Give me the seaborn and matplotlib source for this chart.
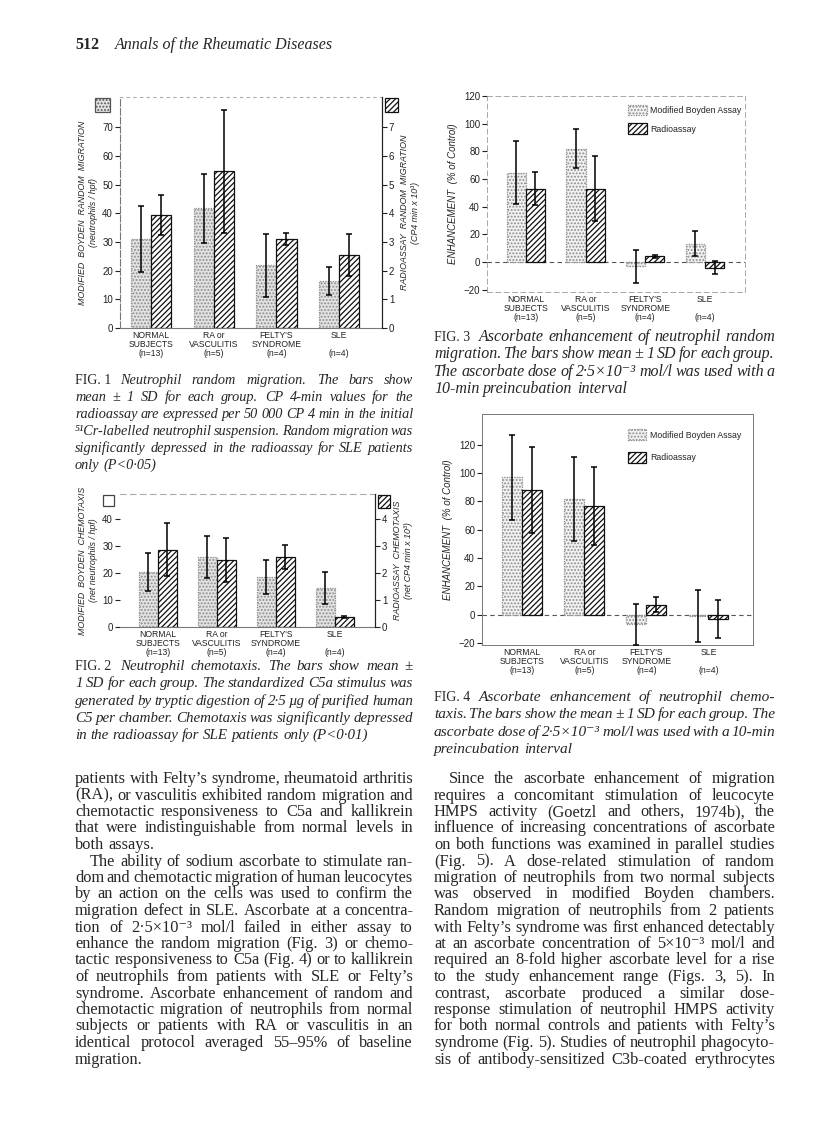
import matplotlib
matplotlib.use("Agg")
import matplotlib.pyplot as plt
from matplotlib.patches import Rectangle
import pandas as pd
import seaborn as sns

W, H = 816, 1138

# ---- values ----
groups = ["NORMAL\nSUBJECTS\n(n=13)", "RA or\nVASCULITIS\n(n=5)",
          "FELTY'S\nSYNDROME\n(n=4)", "SLE\n\n(n=4)"]
assays = ["Modified Boyden Assay", "Radioassay"]

# Fig 1: random migration (Boyden: neutrophils/hpf, radio: CP4 min x 10^3)
fig1_boyden = [30.9, 41.7, 21.8, 16.4]
fig1_boyden_sd = [11.5, 12.0, 11.1, 5.0]
fig1_radio = [3.94, 5.46, 3.10, 2.55]
fig1_radio_sd = [0.70, 2.15, 0.22, 0.74]

# Fig 2: chemotaxis
fig2_boyden = [20.4, 25.9, 18.5, 14.4]
fig2_boyden_sd = [7.2, 7.9, 6.4, 5.9]
fig2_radio = [2.86, 2.49, 2.59, 0.37]
fig2_radio_sd = [0.98, 0.82, 0.45, 0.03]

# Fig 3: ascorbate enhancement of random migration (% of control)
fig3_boyden = [64.6, 81.9, -3.0, 13.3]
fig3_boyden_sd = [23.0, 13.9, 12.0, 9.0]
fig3_radio = [53.0, 53.0, 4.1, -4.1]
fig3_radio_sd = [12.0, 23.4, 0.9, 4.6]

# Fig 4: ascorbate enhancement of chemotaxis (% of control)
fig4_boyden = [97.2, 81.9, -7.0, -1.0]
fig4_boyden_sd = [30.0, 29.6, 14.4, 18.5]
fig4_radio = [88.2, 76.9, 7.1, -3.0]
fig4_radio_sd = [30.6, 27.6, 5.6, 13.5]

header_num = "512"
header_title = "Annals of the Rheumatic Diseases"

cap1 = ["Neutrophil random migration. The bars show",
        "mean ± 1 SD for each group. CP 4-min values for the",
        "radioassay are expressed per 50 000 CP 4 min in the initial",
        "⁵¹Cr-labelled neutrophil suspension. Random migration was",
        "significantly depressed in the radioassay for SLE patients",
        "only (P<0·05)"]
cap2 = ["Neutrophil chemotaxis. The bars show mean ±",
        "1 SD for each group. The standardized C5a stimulus was",
        "generated by tryptic digestion of 2·5 µg of purified human",
        "C5 per chamber. Chemotaxis was significantly depressed",
        "in the radioassay for SLE patients only (P<0·01)"]
cap3 = ["Ascorbate enhancement of neutrophil random",
        "migration. The bars show mean ± 1 SD for each group.",
        "The ascorbate dose of 2·5×10⁻³ mol/l was used with a",
        "10-min preincubation interval"]
cap4 = ["Ascorbate enhancement of neutrophil chemo-",
        "taxis. The bars show the mean ± 1 SD for each group. The",
        "ascorbate dose of 2·5×10⁻³ mol/l was used with a 10-min",
        "preincubation interval"]

body_left = ["patients with Felty’s syndrome, rheumatoid arthritis",
             "(RA), or vasculitis exhibited random migration and",
             "chemotactic responsiveness to C5a and kallikrein",
             "that were indistinguishable from normal levels in",
             "both assays.",
             "The ability of sodium ascorbate to stimulate ran-",
             "dom and chemotactic migration of human leucocytes",
             "by an action on the cells was used to confirm the",
             "migration defect in SLE. Ascorbate at a concentra-",
             "tion of 2·5×10⁻³ mol/l failed in either assay to",
             "enhance the random migration (Fig. 3) or chemo-",
             "tactic responsiveness to C5a (Fig. 4) or to kallikrein",
             "of neutrophils from patients with SLE or Felty’s",
             "syndrome. Ascorbate enhancement of random and",
             "chemotactic migration of neutrophils from normal",
             "subjects or patients with RA or vasculitis in an",
             "identical protocol averaged 55–95% of baseline",
             "migration."]
body_right = ["Since the ascorbate enhancement of migration",
              "requires a concomitant stimulation of leucocyte",
              "HMPS activity (Goetzl and others, 1974b), the",
              "influence of increasing concentrations of ascorbate",
              "on both functions was examined in parallel studies",
              "(Fig. 5). A dose-related stimulation of random",
              "migration of neutrophils from two normal subjects",
              "was observed in modified Boyden chambers.",
              "Random migration of neutrophils from 2 patients",
              "with Felty’s syndrome was first enhanced detectably",
              "at an ascorbate concentration of 5×10⁻³ mol/l and",
              "required an 8-fold higher ascorbate level for a rise",
              "to the study enhancement range (Figs. 3, 5). In",
              "contrast, ascorbate produced a similar dose-",
              "response stimulation of neutrophil HMPS activity",
              "for both normal controls and patients with Felty’s",
              "syndrome (Fig. 5). Studies of neutrophil phagocyto-",
              "sis of antibody-sensitized C3b-coated erythrocytes"]

sns.set_theme(style="ticks")
SANS = ["Liberation Sans", "DejaVu Sans"]
SERIF = ["Liberation Serif", "DejaVu Serif"]
plt.rcParams["font.family"] = SANS
plt.rcParams["hatch.linewidth"] = 0.9
plt.rcParams["axes.linewidth"] = 0.8
plt.rcParams["xtick.major.width"] = 0.8
plt.rcParams["ytick.major.width"] = 0.8
plt.rcParams["xtick.color"] = "#222222"
plt.rcParams["ytick.color"] = "#222222"

STIPPLE_EDGE = "#8c8c8c"


def px_axes(fig, x0, y0, x1, y1):
    return fig.add_axes([x0 / W, 1 - y1 / H, (x1 - x0) / W, (y1 - y0) / H])


def draw_bars(ax, boyden, boyden_sd, radio, radio_sd, scale=1.0, fill="#e2e2e2"):
    df = pd.DataFrame({
        "group": groups * 2,
        "assay": [assays[0]] * len(groups) + [assays[1]] * len(groups),
        "value": list(boyden) + [v * scale for v in radio],
    })
    sns.barplot(data=df, x="group", y="value", hue="assay", order=groups,
                hue_order=assays, width=0.64, gap=0, errorbar=None,
                legend=False, ax=ax)
    for b in ax.containers[0]:
        b.set_facecolor(fill)
        b.set_edgecolor(STIPPLE_EDGE)
        b.set_hatch(".....")
        b.set_linewidth(0.9)
        b.set_linestyle((0, (1, 1)))
    for b in ax.containers[1]:
        b.set_facecolor("white")
        b.set_edgecolor("#111111")
        b.set_hatch("//////")
        b.set_linewidth(0.9)
    for cont, mean, sd, k in [(ax.containers[0], boyden, boyden_sd, 1.0),
                              (ax.containers[1], radio, radio_sd, scale)]:
        xs = [b.get_x() + b.get_width() / 2 for b in cont]
        ax.errorbar(xs, [m * k for m in mean], yerr=[s * k for s in sd],
                    fmt="none", ecolor="black", elinewidth=1.1, capsize=2.5,
                    capthick=1.1, zorder=5)
    ax.set_xlabel("")
    ax.set_ylabel("")
    ax.tick_params(axis="x", length=0, pad=2.5, labelsize=6.2)
    ax.tick_params(axis="y", length=3.5, pad=1.5, labelsize=7)
    for lab in ax.get_xticklabels():
        lab.set_linespacing(1.0)


fig = plt.figure(figsize=(W / 100, H / 100), dpi=100)
fig.patch.set_facecolor("white")

# ---------- Fig 1 ----------
ax1 = px_axes(fig, 120, 97, 382, 328)
draw_bars(ax1, fig1_boyden, fig1_boyden_sd, fig1_radio, fig1_radio_sd, scale=10)
ax1.set_xlim(-0.49, 3.68)
ax1.set_ylim(0, 80.5)
ax1.set_yticks(range(0, 80, 10))
ax1r = ax1.twinx()
ax1r.set_ylim(0, 8.05)
ax1r.set_yticks(range(0, 8))
ax1r.tick_params(axis="y", length=3.5, pad=1.5, labelsize=7)
ax1.spines["left"].set_color("#777777")
ax1.spines["left"].set_linestyle((0, (6, 2)))
ax1.spines["top"].set_color("#aaaaaa")
ax1.spines["top"].set_linestyle((0, (2, 4)))
ax1.spines["bottom"].set_color("#777777")
for s in ["left", "top", "bottom"]:
    ax1r.spines[s].set_visible(False)
ax1r.spines["right"].set_color("#222222")
ax1.set_ylabel("MODIFIED  BOYDEN  RANDOM  MIGRATION\n(neutrophils / hpf)",
               fontsize=6.4, style="italic", labelpad=3, linespacing=1.25)
ax1r.set_ylabel("RADIOASSAY  RANDOM  MIGRATION\n(CP4 min x 10³)",
                fontsize=6.4, style="italic", labelpad=4, linespacing=1.25)

# ---------- Fig 2 ----------
ax2 = px_axes(fig, 120, 494, 375, 627)
draw_bars(ax2, fig2_boyden, fig2_boyden_sd, fig2_radio, fig2_radio_sd, scale=10)
ax2.set_xlim(-0.64, 3.68)
ax2.set_ylim(0, 49.3)
ax2.set_yticks(range(0, 50, 10))
ax2r = ax2.twinx()
ax2r.set_ylim(0, 4.93)
ax2r.set_yticks(range(0, 5))
ax2r.tick_params(axis="y", length=3.5, pad=1.5, labelsize=7)
ax2.spines["left"].set_visible(False)
ax2.spines["top"].set_color("#aaaaaa")
ax2.spines["top"].set_linestyle((0, (5, 4)))
ax2.spines["bottom"].set_color("#777777")
for s in ["left", "top", "bottom"]:
    ax2r.spines[s].set_visible(False)
ax2r.spines["right"].set_color("#222222")
ax2.set_ylabel("MODIFIED  BOYDEN  CHEMOTAXIS\n(net neutrophils / hpf)",
               fontsize=6.4, style="italic", labelpad=3, linespacing=1.25)
ax2r.set_ylabel("RADIOASSAY  CHEMOTAXIS\n(net CP4 min x 10³)",
                fontsize=6.4, style="italic", labelpad=4, linespacing=1.25)

# key squares beside the Fig 1 / Fig 2 axes
for (x0, y0, x1, y1, kind) in [(95, 98, 110, 112, "b"), (385, 98, 398, 112, "r"),
                               (103, 495, 114, 506, "o"), (378, 495, 390, 508, "r")]:
    if kind == "r":
        sty = dict(facecolor="white", edgecolor="#111111", hatch="//////", lw=0.9)
    elif kind == "b":
        sty = dict(facecolor="#e2e2e2", edgecolor="#555555", hatch=".....", lw=0.9)
    else:
        sty = dict(facecolor="white", edgecolor="#444444", lw=0.9)
    fig.add_artist(Rectangle((x0 / W, 1 - y1 / H), (x1 - x0) / W, (y1 - y0) / H,
                             transform=fig.transFigure, **sty))

# ---------- Fig 3 ----------
ax3 = px_axes(fig, 487, 96, 745, 292)
draw_bars(ax3, fig3_boyden, fig3_boyden_sd, fig3_radio, fig3_radio_sd, fill="#f1f1f1")
ax3.set_xlim(-0.65, 3.67)
ax3.set_ylim(-21.7, 120)
ax3.set_yticks(range(-20, 121, 20))
for s in ax3.spines.values():
    s.set_color("#9a9a9a")
    s.set_linewidth(0.6)
    s.set_linestyle((0, (6, 4)))
ax3.axhline(0, color="#555555", lw=0.8, ls=(0, (4, 3)), zorder=0)
ax3.set_ylabel("ENHANCEMENT  (% of Control)", fontsize=7, style="italic", labelpad=4)
ax3.legend([ax3.containers[0][0], ax3.containers[1][0]], assays,
           loc="upper left", bbox_to_anchor=(0.547, 0.955), frameon=False,
           fontsize=6.3, handlelength=2.1, handleheight=1.5, borderpad=0,
           borderaxespad=0, labelspacing=0.9, handletextpad=0.4)

# ---------- Fig 4 ----------
ax4 = px_axes(fig, 482, 414, 753, 645)
draw_bars(ax4, fig4_boyden, fig4_boyden_sd, fig4_radio, fig4_radio_sd, fill="#f1f1f1")
ax4.set_xlim(-0.65, 3.72)
ax4.set_ylim(-21.5, 141.8)
ax4.set_yticks(range(-20, 121, 20))
for s in ax4.spines.values():
    s.set_color("#777777")
    s.set_linewidth(0.7)
ax4.axhline(0, color="#555555", lw=0.8, ls=(0, (4, 3)), zorder=0)
ax4.set_ylabel("ENHANCEMENT  (% of Control)", fontsize=7, style="italic", labelpad=4)
ax4.legend([ax4.containers[0][0], ax4.containers[1][0]], assays,
           loc="upper left", bbox_to_anchor=(0.539, 0.935), frameon=False,
           fontsize=6.3, handlelength=2.1, handleheight=1.6, borderpad=0,
           borderaxespad=0, labelspacing=1.3, handletextpad=0.4)

# ---------- page text ----------
renderer = fig.canvas.get_renderer()


def text_width(s, size, **kw):
    t = fig.text(0, 0, s, fontsize=size, **kw)
    w = t.get_window_extent(renderer).width
    t.remove()
    return w


def fits(lines, starts, x1, size, **kw):
    space = text_width("x x", size, **kw) - text_width("xx", size, **kw)
    for line, x0 in zip(lines, starts):
        words = line.split()
        need = sum(text_width(w, size, **kw) for w in words) + 0.55 * space * (len(words) - 1)
        if need > x1 - x0:
            return False
    return True


def put_block(lines, x0, x1, y0, step, size, free=(), indent=(), prefix=None, **kw):
    starts = [x0 + (15 if i in indent else 0) for i in range(len(lines))]
    if prefix:
        t = fig.text(x0 / W, 1 - y0 / H, prefix, va="baseline", ha="left",
                     family=SERIF, fontsize=10)
        starts[0] = x0 + t.get_window_extent(renderer).width + 9
    # one size for the whole block: the largest that lets every line fit
    while size > 7 and not fits(lines, starts, x1, size, **kw):
        size -= 0.1
    space = text_width("x x", size, **kw) - text_width("xx", size, **kw)
    for i, line in enumerate(lines):
        words = line.split()
        widths = [text_width(w, size, **kw) for w in words]
        gap = space
        if i not in free and len(words) > 1:
            gap = (x1 - starts[i] - sum(widths)) / (len(words) - 1)
        x = starts[i]
        y = y0 + i * step
        for w, wd in zip(words, widths):
            fig.text(x / W, 1 - y / H, w, va="baseline", ha="left", fontsize=size, **kw)
            x += wd + gap


body = dict(family=SERIF)
cap = dict(family=SERIF, style="italic")

fig.text(75 / W, 1 - 49 / H, header_num, family=SERIF, fontsize=11.5,
         weight="bold", va="baseline")
fig.text(115 / W, 1 - 49 / H, header_title, family=SERIF, fontsize=11.5,
         style="italic", va="baseline")

put_block(cap1, 75, 413, 384, 17, 11.5, free={5}, prefix="FIG. 1", **cap)
put_block(cap2, 75, 413, 670, 17.3, 11.5, free={4}, prefix="FIG. 2", **cap)
put_block(cap3, 434, 775, 341, 17.3, 11.5, free={3}, prefix="FIG. 3", **cap)
put_block(cap4, 434, 775, 701, 17.3, 11.5, free={3}, prefix="FIG. 4", **cap)
put_block(body_left, 75, 413, 783, 16.5, 11.8, free={4, 17}, indent={5}, **body)
put_block(body_right, 434, 775, 783, 16.5, 11.8, indent={0}, **body)

fig.savefig("out.png", dpi=100, facecolor="white")
